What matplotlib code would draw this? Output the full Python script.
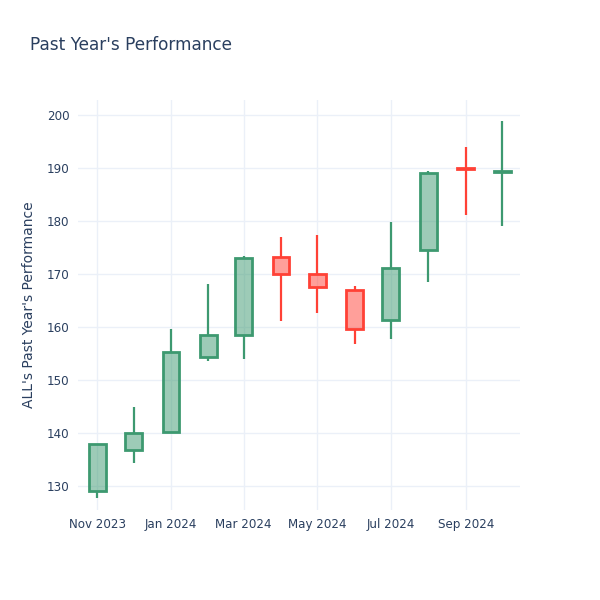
import matplotlib
matplotlib.use("Agg")
import matplotlib.pyplot as plt
import matplotlib.dates as mdates
import numpy as np
import pandas as pd

months = ["2023-11-01", "2023-12-01", "2024-01-01", "2024-02-01", "2024-03-01", "2024-04-01",
          "2024-05-01", "2024-06-01", "2024-07-01", "2024-08-01", "2024-09-01", "2024-10-01"]
opens = [129.1, 136.9, 140.3, 154.4, 158.5, 173.2, 170.1, 167.0, 161.3, 174.5, 189.95, 189.2]
highs = [138.0, 145.0, 159.6, 168.1, 173.5, 177.0, 177.4, 167.7, 179.9, 189.4, 194.0, 198.9]
lows = [127.7, 134.3, 140.3, 153.6, 154.0, 161.2, 162.7, 156.8, 157.7, 168.5, 181.2, 179.1]
closes = [137.9, 140.1, 155.3, 158.6, 173.1, 170.1, 167.6, 159.7, 171.2, 189.1, 189.75, 189.5]

INC = "#3D9970"
DEC = "#FF4136"
TXT = "#2a3f5f"
GRID = "#EBF0F8"

dates = pd.to_datetime(months)
x = mdates.date2num(dates)

fig = plt.figure(figsize=(6, 6), dpi=100)
ax = fig.add_axes([0.13, 0.15, 0.737, 0.683])

for xi, o, h, l, c in zip(x, opens, highs, lows, closes):
    col = INC if c >= o else DEC
    lo_body, hi_body = min(o, c), max(o, c)
    # wicks stop at the body, as in plotly
    ax.plot([xi, xi], [l, lo_body], color=col, lw=1.6, solid_capstyle="butt", zorder=2)
    ax.plot([xi, xi], [hi_body, h], color=col, lw=1.6, solid_capstyle="butt", zorder=2)
    ax.bar(xi, hi_body - lo_body, bottom=lo_body, width=14, color=col, alpha=0.5,
           linewidth=0, zorder=3)
    ax.bar(xi, hi_body - lo_body, bottom=lo_body, width=14, facecolor="none",
           edgecolor=col, linewidth=2, zorder=4)

ax.set_xlim(mdates.date2num(pd.Timestamp("2023-10-16")), mdates.date2num(pd.Timestamp("2024-10-16")))
ax.set_ylim(125.5, 202.8)
ax.set_yticks(np.arange(130, 201, 10))
ticks = pd.to_datetime(["2023-11-01", "2024-01-01", "2024-03-01", "2024-05-01", "2024-07-01", "2024-09-01"])
ax.set_xticks(mdates.date2num(ticks))
ax.set_xticklabels([t.strftime("%b %Y") for t in ticks])

ax.grid(True, color=GRID, lw=1)
ax.set_axisbelow(True)
for s in ax.spines.values():
    s.set_visible(False)
ax.tick_params(length=0, labelsize=8.6, colors=TXT, pad=6)
ax.set_ylabel("ALL's Past Year's Performance", fontsize=10, color=TXT, labelpad=8)

fig.text(0.05, 0.925, "Past Year's Performance", fontsize=12.2, color=TXT, va="center")

fig.savefig("out.png", dpi=100, facecolor="white")
